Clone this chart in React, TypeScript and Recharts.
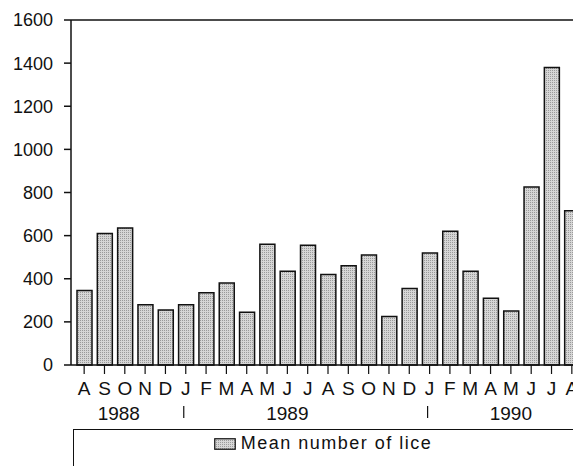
import React from 'react';
import { BarChart, Bar, XAxis, YAxis, ReferenceLine, Legend } from 'recharts';

// months from Aug 1988 to Aug 1990
const months = ['A', 'S', 'O', 'N', 'D', 'J', 'F', 'M', 'A', 'M', 'J', 'J', 'A', 'S', 'O', 'N', 'D', 'J', 'F', 'M', 'A', 'M', 'J', 'J', 'A'];
const meanLice = [345, 610, 635, 280, 255, 280, 335, 380, 245, 560, 435, 555, 420, 460, 510, 225, 355, 520, 620, 435, 310, 250, 825, 1380, 715];
// second row under the months: year names and year separators
const yearRow = ['', '', '1988', '', '', '|', '', '', '', '', '1989', '', '', '', '', '', '', '|', '', '', '', '1990', '', '', ''];
const yTicks = [0, 200, 400, 600, 800, 1000, 1200, 1400, 1600];

const data = months.map((m, i) => ({ month: m, lice: meanLice[i], year: yearRow[i] }));

const FONT = '"Liberation Sans", Arial, sans-serif';

const MonthTick = (props: any) => {
  const { x, y, index, payload } = props;
  const year = yearRow[index];
  const shift = year === '1988' ? -6 : 0;
  return (
    <g>
      <line x1={x} y1={y} x2={x} y2={y + 9} stroke="#111" strokeWidth={1.2} />
      <text x={x} y={y + 30} textAnchor="middle" fontSize={19} fill="#111" fontFamily={FONT}>
        {payload.value}
      </text>
      {year === '|' && <line x1={x - 2} y1={y + 41} x2={x - 2} y2={y + 53} stroke="#111" strokeWidth={1.2} />}
      {year && year !== '|' && (
        <text x={x + shift} y={y + 55} textAnchor="middle" fontSize={19} fill="#111" fontFamily={FONT}>
          {year}
        </text>
      )}
    </g>
  );
};

const LegendBox = () => (
  <div
    style={{
      marginLeft: 73,
      height: 51,
      borderTop: '1.5px solid #111',
      borderLeft: '1.5px solid #111',
      boxSizing: 'border-box',
      display: 'flex',
      justifyContent: 'center',
      alignItems: 'flex-start',
      paddingTop: 3,
      paddingRight: 10,
      fontFamily: FONT,
      fontSize: 18,
      color: '#111',
    }}
  >
    <svg width={22} height={12} style={{ marginTop: 5, marginRight: 5 }}>
      <rect x={0.75} y={0.75} width={20.5} height={10.5} fill="url(#stipple)" stroke="#111" strokeWidth={1.2} />
    </svg>
    <span style={{ letterSpacing: 1.5 }}>Mean number of lice</span>
  </div>
);

export default function App() {
  return (
    <div style={{ position: 'absolute', left: 0, top: 0, width: 573, height: 466, overflow: 'hidden', background: '#fff' }}>
      <BarChart width={582} height={480} data={data} margin={{ top: 20, right: 0, bottom: 0, left: 0 }}>
        <defs>
          <pattern id="stipple" patternUnits="userSpaceOnUse" width={2} height={2}>
            <rect width={2} height={2} fill="#d6d6d6" />
            <rect width={1} height={1} fill="#9a9a9a" />
          </pattern>
        </defs>
        <XAxis
          dataKey="month"
          interval={0}
          height={64}
          padding={{ left: 3, right: 0 }}
          tickLine={false}
          tickSize={0}
          tickMargin={0}
          axisLine={{ stroke: '#111', strokeWidth: 1.5 }}
          tick={<MonthTick />}
        />
        <YAxis
          width={71}
          domain={[0, 1600]}
          ticks={yTicks}
          interval={0}
          tickSize={7}
          tickMargin={11}
          axisLine={{ stroke: '#111', strokeWidth: 1.5 }}
          tickLine={{ stroke: '#111', strokeWidth: 1.5 }}
          tick={{ fill: '#111', fontSize: 18, fontFamily: FONT }}
        />
        <ReferenceLine y={1600} stroke="#111" strokeWidth={1.5} />
        <Legend verticalAlign="bottom" height={51} content={<LegendBox />} />
        <Bar dataKey="lice" name="Mean number of lice" barSize={15} fill="url(#stipple)" stroke="#111" strokeWidth={1.5} isAnimationActive={false} />
      </BarChart>
    </div>
  );
}
